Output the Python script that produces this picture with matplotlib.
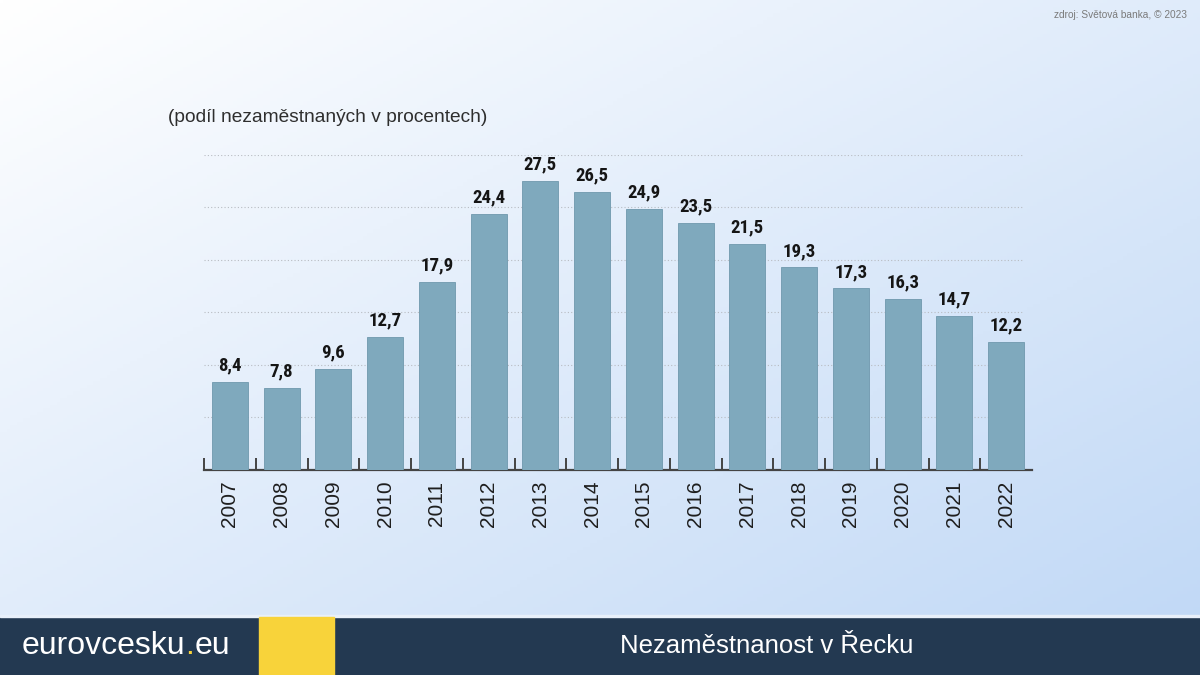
"""Nezaměstnanost v Řecku - sloupcový graf (eurovcesku.eu)."""

import matplotlib
import matplotlib.pyplot as plt
import numpy as np
from matplotlib import font_manager
from matplotlib.patches import Rectangle

matplotlib.use("Agg")

# ── Data ─────────────────────────────────────────────────────────────────────
YEARS = ["2007", "2008", "2009", "2010", "2011", "2012", "2013", "2014",
         "2015", "2016", "2017", "2018", "2019", "2020", "2021", "2022"]
UNEMPLOYMENT = [8.4, 7.8, 9.6, 12.7, 17.9, 24.4, 27.5, 26.5,
                24.9, 23.5, 21.5, 19.3, 17.3, 16.3, 14.7, 12.2]
GRID_LEVELS = [5, 10, 15, 20, 25, 30]

SUBTITLE = "(podíl nezaměstnaných v procentech)"
TITLE = "Nezaměstnanost v Řecku"
SOURCE = "zdroj: Světová banka, © 2023"

BAR_COLOR = "#7fa9bd"
NAVY = "#233951"
YELLOW = "#f8d33a"
SANS = ["Liberation Sans", "DejaVu Sans"]


def condensed_font() -> dict:
    """Pick a condensed face if one is installed."""
    fonts = font_manager.fontManager.ttflist
    names = {f.name for f in fonts}
    for fam in ("Roboto Condensed", "Liberation Sans Narrow", "Open Sans Condensed"):
        if fam in names:
            return {"family": fam}
    for f in fonts:
        if f.name in ("DejaVu Sans", "Roboto", "Open Sans") and f.stretch in (
            "condensed", "semi-condensed", 75, 87.5, 62.5
        ):
            return {"family": f.name, "stretch": f.stretch}
    return {"family": "DejaVu Sans"}


def main() -> None:
    cond = condensed_font()
    fig = plt.figure(figsize=(12, 6.75), dpi=100)

    # background gradient: white top-left -> light blue bottom-right
    bg = fig.add_axes([0, 0, 1, 1], zorder=-10)
    h, w = 200, 360
    yy, xx = np.mgrid[0:1:h * 1j, 0:1:w * 1j]
    t = np.clip(0.52 * yy + 0.5 * xx, 0, 1)
    top = np.array([0xff, 0xff, 0xff]) / 255
    bot = np.array([0xc0, 0xd8, 0xf6]) / 255
    img = top[None, None, :] * (1 - t[..., None]) + bot[None, None, :] * t[..., None]
    bg.imshow(img, extent=[0, 1, 0, 1], aspect="auto", origin="upper")
    bg.set_xlim(0, 1)
    bg.set_ylim(0, 1)
    bg.axis("off")

    # chart
    ax = fig.add_axes([0.17, 0.3037, 0.69, 0.4667])
    ax.patch.set_alpha(0)
    x = np.arange(len(YEARS))
    bars = ax.bar(x, UNEMPLOYMENT, width=0.7, color=BAR_COLOR,
                  edgecolor="#6f98ad", linewidth=0.6, zorder=3)
    for rect, v in zip(bars, UNEMPLOYMENT):
        ax.text(rect.get_x() + rect.get_width() / 2, v + 0.7,
                f"{v:.1f}".replace(".", ","), ha="center", va="bottom",
                fontsize=13.5, fontweight="bold", color="#151515",
                zorder=4, **cond)

    for g in GRID_LEVELS:
        ax.axhline(g, xmin=0.0, xmax=0.99, color="#b8bcc2", lw=0.8,
                   ls=(0, (1, 2)), zorder=1)

    ax.set_xlim(-0.5, len(YEARS) - 0.5)
    ax.set_ylim(0, 30)
    for side in ("top", "right", "left"):
        ax.spines[side].set_visible(False)
    ax.spines["bottom"].set_color("#444444")
    ax.spines["bottom"].set_linewidth(1.6)
    ax.set_yticks([])
    ax.set_xticks(x - 0.5, minor=False)
    ax.set_xticklabels([])
    ax.tick_params(axis="x", direction="in", length=9, width=1.4,
                   color="#444444")
    for xi, lab in zip(x, YEARS):
        ax.text(xi, -1.0, lab, rotation=90, ha="center", va="top",
                fontsize=15, color="#1e1e1e", family=SANS)

    fig.text(168 / 1200, 1 - 118 / 675, SUBTITLE, ha="left", va="center",
             fontsize=13.8, color="#2e2e2e", family=SANS)
    fig.text(1187 / 1200, 1 - 15 / 675, SOURCE, ha="right", va="center",
             fontsize=7.3, color="#7a7a7a", family=SANS)

    # footer
    fig.patches.append(Rectangle((0, 0), 1, 58 / 675, transform=fig.transFigure,
                                 color=NAVY, zorder=5))
    fig.patches.append(Rectangle((0, 58 / 675), 1, 2 / 675, transform=fig.transFigure,
                                 color="#e8f0fa", zorder=5))
    fig.patches.append(Rectangle((259 / 1200, 0), 75 / 1200, 58 / 675,
                                 transform=fig.transFigure, color=YELLOW, zorder=6))
    y_f = 29 / 675
    t1 = fig.text(22 / 1200, y_f, "eurovcesku", ha="left", va="center",
                  fontsize=23, color="white", family=SANS, zorder=7)
    fig.canvas.draw()
    bb = t1.get_window_extent()
    t2 = fig.text(bb.x1 / 1200, y_f, ".", ha="left", va="center",
                  fontsize=23, color=YELLOW, family=SANS, zorder=7)
    bb2 = t2.get_window_extent()
    fig.text(bb2.x1 / 1200, y_f, "eu", ha="left", va="center",
             fontsize=23, color="white", family=SANS, zorder=7)
    fig.text(767 / 1200, y_f, TITLE, ha="center", va="center",
             fontsize=18.5, color="white", family=SANS, zorder=7)

    fig.savefig("out.png", dpi=100)
    plt.close(fig)


if __name__ == "__main__":
    main()
